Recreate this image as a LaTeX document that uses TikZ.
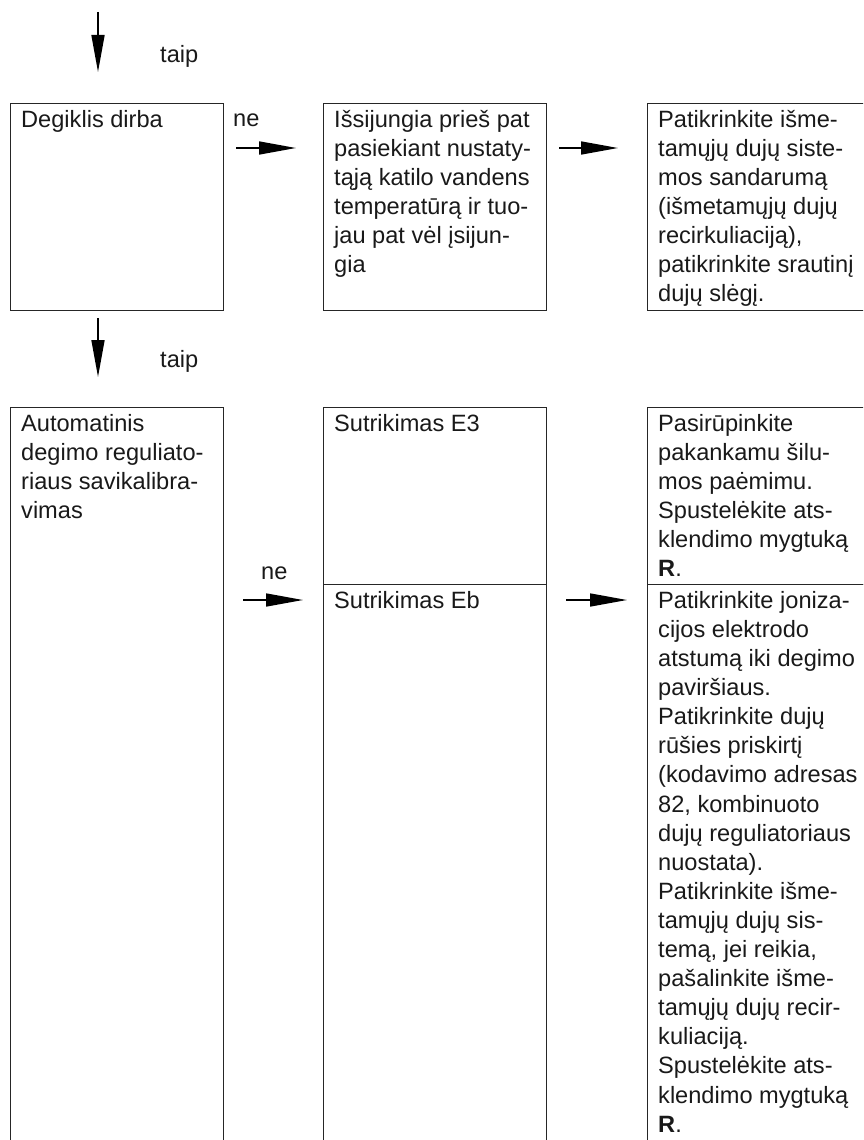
\documentclass[tikz,border=0pt]{standalone}
\usepackage{fontspec}
\setmainfont{Liberation Sans}
\usepackage{tikz}
\usetikzlibrary{positioning, arrows.meta}

\tikzset{
    box/.style={draw=black!85, line width=1.1pt, rectangle, inner sep=0pt, anchor=north west},
    txt/.style={anchor=north west, inner xsep=11pt, inner ysep=7pt, align=left, text=black!90,
        font=\fontsize{23.6pt}{29.1pt}\selectfont},
    lbl/.style={anchor=base west, inner sep=0pt, text=black!90, font=\fontsize{23.6pt}{29.1pt}\selectfont},
    arr/.style={line width=1.6pt, -{Triangle[length=37pt, width=13pt]}}
}

\begin{document}
\begin{tikzpicture}[x=1pt, y=-1pt]
    \useasboundingbox (0,0) rectangle (863,1140);
    \clip (0,0) rectangle (863,1140);

    % upper row
    \node[box, minimum width=213pt, minimum height=207pt] (degiklis) at (10, 103) {};
    \node[box, minimum width=223pt, minimum height=207pt] (issijungia) at (323, 103) {};
    \node[box, minimum width=240pt, minimum height=207pt] (sandarumas) at (647, 103) {};

    % lower row
    \node[box, minimum width=213pt, minimum height=760pt] (automatinis) at (10, 407) {};
    \node[box, minimum width=223pt, minimum height=177pt] (klaidaE) at (323, 407) {};
    \node[box, minimum width=223pt, minimum height=570pt] (klaidaEb) at (323, 584) {};
    \node[box, minimum width=240pt, minimum height=177pt] (silumos) at (647, 407) {};
    \node[box, minimum width=240pt, minimum height=570pt] (jonizacija) at (647, 584) {};

    % texts
    \node[txt] (degiklisT) at (degiklis.north west) {Degiklis dirba};
    \node[txt] (issijungiaT) at (issijungia.north west) {Išsijungia prieš pat\\pasiekiant nustaty-\\tąją katilo vandens\\temperatūrą ir tuo-\\jau pat vėl įsijun-\\gia};
    \node[txt] (sandarumasT) at (sandarumas.north west) {Patikrinkite išme-\\tamųjų dujų siste-\\mos sandarumą\\(išmetamųjų dujų\\recirkuliaciją),\\patikrinkite srautinį\\dujų slėgį.};
    \node[txt] (automatinisT) at (automatinis.north west) {Automatinis\\degimo reguliato-\\riaus savikalibra-\\vimas};
    \node[txt] (klaidaET) at (klaidaE.north west) {Sutrikimas E3};
    \node[txt] (klaidaEbT) at (klaidaEb.north west) {Sutrikimas Eb};
    \node[txt] (silumosT) at (silumos.north west) {Pasirūpinkite\\pakankamu šilu-\\mos paėmimu.\\Spustelėkite ats-\\klendimo mygtuką\\\textbf{R}.};
    \node[txt] (jonizacijaT) at (jonizacija.north west) {Patikrinkite joniza-\\cijos elektrodo\\atstumą iki degimo\\paviršiaus.\\Patikrinkite dujų\\rūšies priskirtį\\(kodavimo adresas\\82, kombinuoto\\dujų reguliatoriaus\\nuostata).\\Patikrinkite išme-\\tamųjų dujų sis-\\temą, jei reikia,\\pašalinkite išme-\\tamųjų dujų recir-\\kuliaciją.\\Spustelėkite ats-\\klendimo mygtuką\\\textbf{R}.};

    % labels
    \node[lbl] (taip1) at (160, 63) {taip};
    \node[lbl] (ne1) at (233, 126) {ne};
    \node[lbl] (taip2) at (160, 367) {taip};
    \node[lbl] (ne2) at (261, 579) {ne};

    % connectors
    \coordinate (start) at (98, 12);
    \draw[arr, shorten >=31pt] (start) -- ([xshift=88pt]degiklis.north west);
    \draw[arr, shorten <=12pt, shorten >=27pt] ([yshift=-45pt]degiklis.north east) -- ([yshift=-45pt]issijungia.north west);
    \draw[arr, shorten <=12pt, shorten >=29pt] ([yshift=-45pt]issijungia.north east) -- ([yshift=-45pt]sandarumas.north west);
    \draw[arr, shorten <=7pt, shorten >=30pt] ([xshift=88pt]degiklis.south west) -- ([xshift=88pt]automatinis.north west);
    \draw[arr, shorten <=19pt, shorten >=20pt] ([yshift=-193pt]automatinis.north east) -- ([yshift=-16pt]klaidaEb.north west);
    \draw[arr, shorten <=19pt, shorten >=20pt] ([yshift=-16pt]klaidaEb.north east) -- ([yshift=-16pt]jonizacija.north west);
\end{tikzpicture}
\end{document}
